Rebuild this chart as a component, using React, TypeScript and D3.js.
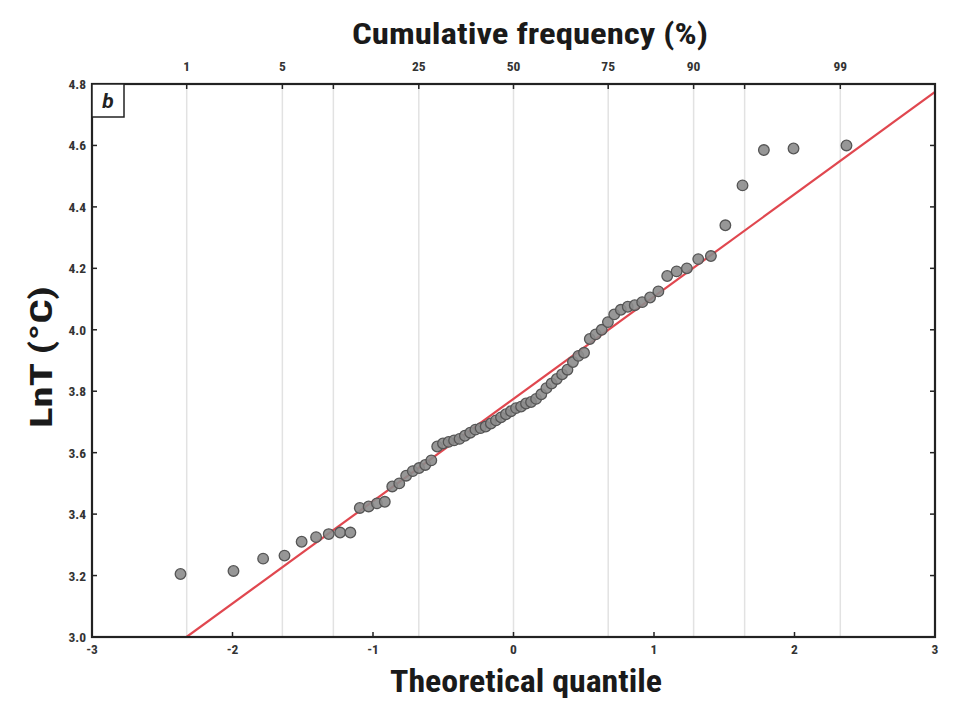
import React from "react";
import * as d3 from "d3";

// Theoretical quantiles (Blom positions, n = 70)
const quantiles: number[] = [
  -2.37, -1.993, -1.782, -1.63, -1.508, -1.405, -1.315, -1.234, -1.161, -1.094,
  -1.031, -0.972, -0.916, -0.863, -0.813, -0.764, -0.717, -0.672, -0.628, -0.585,
  -0.543, -0.502, -0.462, -0.423, -0.384, -0.346, -0.308, -0.271, -0.234, -0.198,
  -0.161, -0.125, -0.089, -0.054, -0.018,
  0.018, 0.054, 0.089, 0.125, 0.161, 0.198, 0.234, 0.271, 0.308, 0.346,
  0.384, 0.423, 0.462, 0.502, 0.543, 0.585, 0.628, 0.672, 0.717, 0.764,
  0.813, 0.863, 0.916, 0.972, 1.031, 1.094, 1.161, 1.234, 1.315, 1.405,
  1.508, 1.63, 1.782, 1.993, 2.37,
];

// Observed LnT values (sorted)
const lnT: number[] = [
  3.205, 3.215, 3.255, 3.265, 3.31, 3.325, 3.335, 3.34, 3.34, 3.42,
  3.425, 3.435, 3.44, 3.49, 3.5, 3.525, 3.54, 3.55, 3.56, 3.575,
  3.62, 3.63, 3.635, 3.64, 3.645, 3.655, 3.665, 3.675, 3.68, 3.685,
  3.695, 3.705, 3.715, 3.725, 3.735,
  3.745, 3.75, 3.76, 3.765, 3.775, 3.79, 3.81, 3.825, 3.84, 3.855,
  3.87, 3.895, 3.915, 3.925, 3.97, 3.985, 4.0, 4.025, 4.05, 4.065,
  4.075, 4.08, 4.09, 4.105, 4.125, 4.175, 4.19, 4.2, 4.23, 4.24,
  4.34, 4.47, 4.585, 4.59, 4.6,
];

// Reference line: LnT = intercept + slope * quantile
const lineIntercept = 3.775;
const lineSlope = 0.333;

const xTicks: number[] = [-3, -2, -1, 0, 1, 2, 3];
const yTicks: number[] = [3.0, 3.2, 3.4, 3.6, 3.8, 4.0, 4.2, 4.4, 4.6, 4.8];

// Cumulative frequency (%) ticks on the top axis
const topTickZ: number[] = [-2.326, -1.645, -1.282, -0.674, 0, 0.674, 1.282, 1.645, 2.326];
const topTickLabels: string[] = ["1", "5", "", "25", "50", "75", "90", "", "99"];

const W = 953;
const H = 706;
const L = 92;
const R = 935;
const T = 84;
const B = 637;

export default function App() {
  const x = d3.scaleLinear().domain([-3, 3]).range([L, R]);
  const y = d3.scaleLinear().domain([3.0, 4.8]).range([B, T]);

  const x0 = (3.0 - lineIntercept) / lineSlope;
  const x1 = 3;
  const linePath = d3
    .line<number>()
    .x((d) => x(d))
    .y((d) => y(lineIntercept + lineSlope * d))([x0, x1]);

  const narrow = "'Liberation Sans Narrow', 'Roboto Condensed', Roboto, sans-serif";
  const tickColor = "#333";

  return (
    <svg
      width={W}
      height={H}
      style={{ position: "absolute", left: 0, top: 0, background: "#fff" }}
      fontFamily={narrow}
    >
      <defs>
        <clipPath id="plotclip">
          <rect x={L} y={T} width={R - L} height={B - T} />
        </clipPath>
      </defs>
      <rect x={0} y={0} width={W} height={H} fill="#fff" />

      {/* vertical grid lines at percentiles */}
      {topTickZ.map((z, i) => (
        <line key={"g" + i} x1={x(z)} x2={x(z)} y1={T} y2={B} stroke="#e2e2e2" strokeWidth={1.5} />
      ))}

      {/* reference line */}
      <path d={linePath || ""} stroke="#e0474f" strokeWidth={2.2} fill="none" clipPath="url(#plotclip)" />

      {/* points */}
      {quantiles.map((q, i) => (
        <circle
          key={"p" + i}
          cx={x(q)}
          cy={y(lnT[i])}
          r={5.3}
          fill="#8c8c8c"
          stroke="#555"
          strokeWidth={1.3}
          fillOpacity={0.9}
        />
      ))}

      {/* frame */}
      <rect x={L} y={T} width={R - L} height={B - T} fill="none" stroke="#222" strokeWidth={2.2} />

      {/* bottom ticks */}
      {xTicks.map((t) => (
        <g key={"xt" + t}>
          {t > -3 && t < 3 && <line x1={x(t)} x2={x(t)} y1={B} y2={B - 5} stroke="#222" strokeWidth={1.5} />}
          <text x={x(t)} y={B + 17} textAnchor="middle" fontSize={13.5} fontWeight="bold" fill={tickColor}>
            {t < 0 ? "-" + Math.abs(t) : String(t)}
          </text>
        </g>
      ))}

      {/* left / right ticks */}
      {yTicks.map((t) => (
        <g key={"yt" + t}>
          {t > 3.0 && t < 4.8 && (
            <>
              <line x1={L} x2={L + 5} y1={y(t)} y2={y(t)} stroke="#222" strokeWidth={1.5} />
              <line x1={R} x2={R - 5} y1={y(t)} y2={y(t)} stroke="#222" strokeWidth={1.5} />
            </>
          )}
          <text x={L - 6} y={y(t) + 5} textAnchor="end" fontSize={13.5} fontWeight="bold" fill={tickColor}>
            {t.toFixed(1)}
          </text>
        </g>
      ))}

      {/* top ticks */}
      {topTickZ.map((z, i) => (
        <g key={"tt" + i}>
          <line x1={x(z)} x2={x(z)} y1={T} y2={T + 5} stroke="#222" strokeWidth={1.5} />
          {topTickLabels[i] && (
            <text x={x(z)} y={T - 13} textAnchor="middle" fontSize={13.5} fontWeight="bold" fill={tickColor}>
              {topTickLabels[i]}
            </text>
          )}
        </g>
      ))}

      {/* panel label */}
      <rect x={L} y={T} width={32} height={33} fill="#fff" stroke="#222" strokeWidth={1.5} />
      <text
        x={L + 16}
        y={T + 24}
        textAnchor="middle"
        fontSize={21}
        fontStyle="italic"
        fontWeight="bold"
        fill="#222"
        fontFamily="Roboto, sans-serif"
      >
        b
      </text>

      {/* axis titles */}
      <text
        x={530}
        y={44}
        textAnchor="middle"
        fontSize={30}
        fontWeight="bold"
        fill="#1a1a1a"
        textLength={356}
        lengthAdjust="spacingAndGlyphs"
      >
        Cumulative frequency (%)
      </text>
      <text
        x={526}
        y={692}
        textAnchor="middle"
        fontSize={32}
        fontWeight="bold"
        fill="#1a1a1a"
        textLength={272}
        lengthAdjust="spacingAndGlyphs"
      >
        Theoretical quantile
      </text>
      <text
        transform={`translate(52, 357) rotate(-90)`}
        textAnchor="middle"
        fontSize={32}
        fontWeight="bold"
        fill="#1a1a1a"
        textLength={142}
        lengthAdjust="spacingAndGlyphs"
      >
        LnT (°C)
      </text>
    </svg>
  );
}
